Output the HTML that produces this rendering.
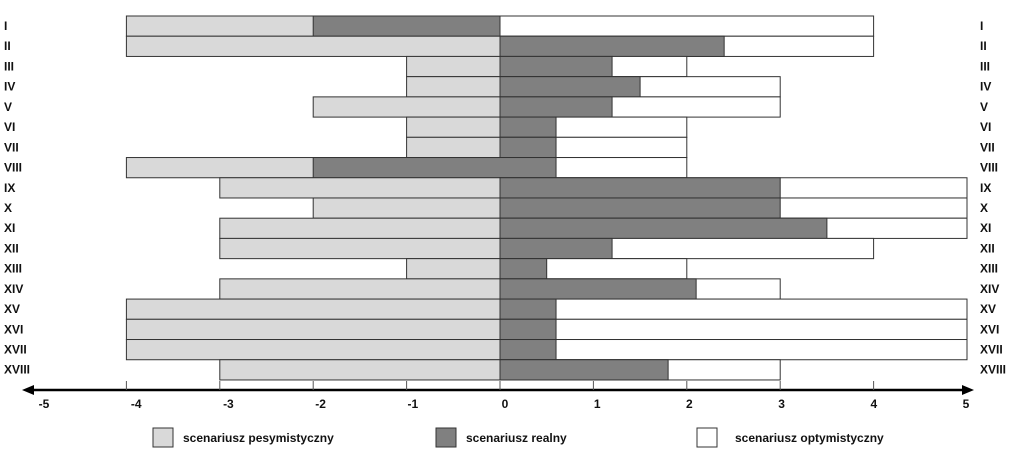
<!DOCTYPE html>
<html><head><meta charset="utf-8"><style>
body{margin:0;background:#fff;font-family:"Liberation Sans",sans-serif;}
svg text{font-family:"Liberation Sans",sans-serif;font-weight:bold;font-size:12px;fill:#111;}
</style></head><body>
<svg id="chart" width="1024" height="466" viewBox="0 0 1024 466"></svg>
<script>
const categories=["I","II","III","IV","V","VI","VII","VIII","IX","X","XI","XII","XIII","XIV","XV","XVI","XVII","XVIII"];
const pessimistic=[-4,-4,-1,-1,-2,-1,-1,-4,-3,-2,-3,-3,-1,-3,-4,-4,-4,-3];
const realLow=[-2,0,0,0,0,0,0,-2,0,0,0,0,0,0,0,0,0,0];
const realHigh=[0,2.4,1.2,1.5,1.2,0.6,0.6,0.6,3,3,3.5,1.2,0.5,2.1,0.6,0.6,0.6,1.8];
const optimistic=[4,4,2,3,3,2,2,2,5,5,5,4,2,3,5,5,5,3];
const ticks=[-5,-4,-3,-2,-1,0,1,2,3,4,5];
const svg=document.getElementById('chart');
const NS='http://www.w3.org/2000/svg';
const x=v=>500+v*93.4;
const rowY=i=>16+i*20.22;
const rh=20.22;
function mk(t,a){const e=document.createElementNS(NS,t);for(const k in a)e.setAttribute(k,a[k]);svg.appendChild(e);return e;}
function bar(lo,hi,i,fill,name){
  const r=mk('rect',{x:x(Math.min(lo,hi)),y:rowY(i),width:Math.abs(x(hi)-x(lo)),height:rh,fill:fill,stroke:'#333','stroke-width':1});
  
  
}
categories.forEach((c,i)=>{
  bar(pessimistic[i],0,i,'#d9d9d9','bar-pessimistic-'+c);
  bar(0,optimistic[i],i,'#ffffff','bar-optimistic-'+c);
  if(realHigh[i]!==realLow[i]) bar(realLow[i],realHigh[i],i,'#808080','bar-realistic-'+c);
  const t1=mk('text',{x:4,y:rowY(i)+14});t1.textContent=c;
  
  
  const t2=mk('text',{x:980,y:rowY(i)+14});t2.textContent=c;
  
  
});
const ax=mk('line',{x1:28,y1:390,x2:966,y2:390,stroke:'#000','stroke-width':2.5});


const ar=mk('polygon',{points:'974,390 962,385 962,395',fill:'#000'});


const al=mk('polygon',{points:'22,390 34,385 34,395',fill:'#000'});


ticks.forEach(v=>{
  if(v>-5&&v<5){const tk=mk('line',{x1:x(v),y1:381,x2:x(v),y2:390,stroke:'#555','stroke-width':1});
  
  }
  const t=mk('text',{x:44+(v+5)*92.2,y:408,'text-anchor':'middle'});t.textContent=v;
  
  
});
const legend=[["scenariusz pesymistyczny","#d9d9d9",153,183],["scenariusz realny","#808080",436,466],["scenariusz optymistyczny","#ffffff",697,735]];
legend.forEach(l=>{
  const r=mk('rect',{x:l[2],y:428,width:20,height:19,fill:l[1],stroke:'#333','stroke-width':1});
  
  
  const t=mk('text',{x:l[3],y:442});t.textContent=l[0];
  
  
});
</script>
</body></html>
